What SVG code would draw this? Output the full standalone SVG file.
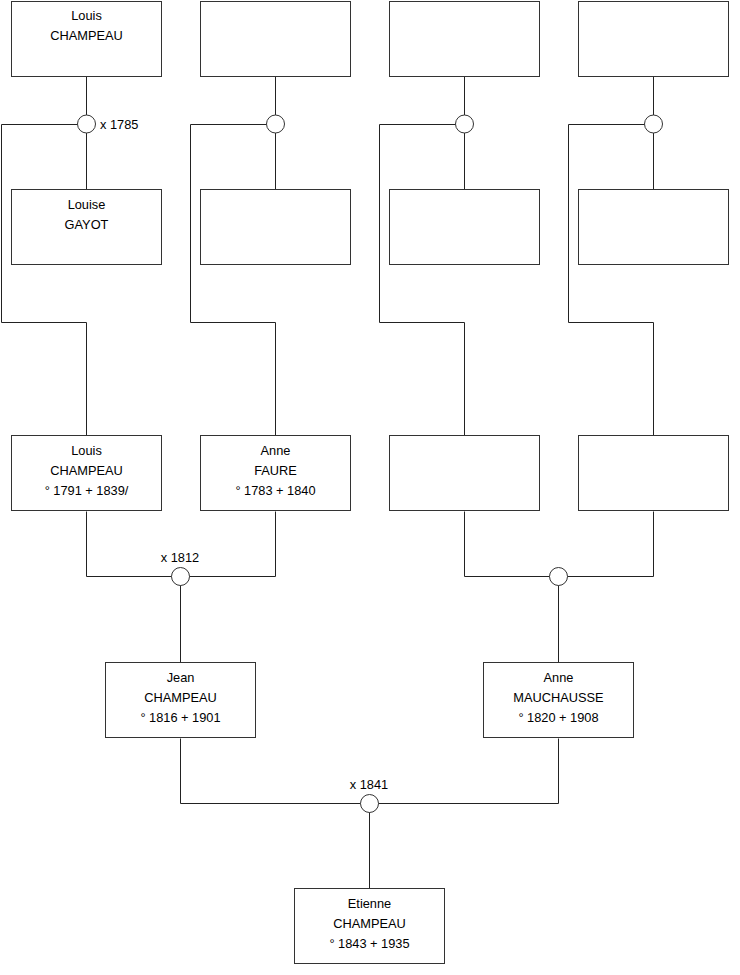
<svg xmlns="http://www.w3.org/2000/svg" width="740" height="975" viewBox="0 0 740 975">
<style>
.b{fill:#fff;stroke:#333;stroke-width:1}
.c{fill:#fff;stroke:#333;stroke-width:1}
.l{fill:none;stroke:#222;stroke-width:1}
text{font-family:"Liberation Sans",Arial,sans-serif;font-size:12.8px;fill:#000;text-anchor:middle}
</style>
<rect width="740" height="975" fill="#fff"/>
<g id="connectors">
<path class="l" d="M86.5 76.5V189.5M77.5 124.5H1.5V322.5H86.5V435.5"/>
<path class="l" d="M275.5 76.5V189.5M266.5 124.5H190.5V322.5H275.5V435.5"/>
<path class="l" d="M464.5 76.5V189.5M455.5 124.5H379.5V322.5H464.5V435.5"/>
<path class="l" d="M653.5 76.5V189.5M644.5 124.5H568.5V322.5H653.5V435.5"/>
<path class="l" d="M86.5 511.5V576.5H275.5V511.5M180.5 576.5V662.5"/>
<path class="l" d="M464.5 511.5V576.5H653.5V511.5M558.5 576.5V662.5"/>
<path class="l" d="M180.5 738.5V803.5H558.5V738.5M369.5 803.5V888.5"/>
</g>
<g id="j1785"><circle class="c" cx="86.5" cy="124" r="9"/><text x="100" y="129" style="text-anchor:start">x 1785</text></g>
<g id="j2"><circle class="c" cx="275.5" cy="124" r="9"/></g>
<g id="j3"><circle class="c" cx="464.5" cy="124" r="9"/></g>
<g id="j4"><circle class="c" cx="653.5" cy="124" r="9"/></g>
<g id="j1812"><circle class="c" cx="180.5" cy="576.5" r="9"/><text x="180" y="562">x 1812</text></g>
<g id="j5"><circle class="c" cx="558.5" cy="576.5" r="9"/></g>
<g id="j1841"><circle class="c" cx="369.5" cy="803.5" r="9"/><text x="369" y="789">x 1841</text></g>

<g id="n1"><rect class="b" x="11.5" y="1.5" width="150" height="75"/><text x="86.5" y="20">Louis</text><text x="86.5" y="40">CHAMPEAU</text></g>
<g id="n2"><rect class="b" x="200.5" y="1.5" width="150" height="75"/></g>
<g id="n3"><rect class="b" x="389.5" y="1.5" width="150" height="75"/></g>
<g id="n4"><rect class="b" x="578.5" y="1.5" width="150" height="75"/></g>

<g id="n5"><rect class="b" x="11.5" y="189.5" width="150" height="75"/><text x="86.5" y="209">Louise</text><text x="86.5" y="229">GAYOT</text></g>
<g id="n6"><rect class="b" x="200.5" y="189.5" width="150" height="75"/></g>
<g id="n7"><rect class="b" x="389.5" y="189.5" width="150" height="75"/></g>
<g id="n8"><rect class="b" x="578.5" y="189.5" width="150" height="75"/></g>

<g id="n9"><rect class="b" x="11.5" y="435.5" width="150" height="75"/><text x="86.5" y="455">Louis</text><text x="86.5" y="475">CHAMPEAU</text><text x="86.5" y="495">° 1791 + 1839/</text></g>
<g id="n10"><rect class="b" x="200.5" y="435.5" width="150" height="75"/><text x="275.5" y="455">Anne</text><text x="275.5" y="475">FAURE</text><text x="275.5" y="495">° 1783 + 1840</text></g>
<g id="n11"><rect class="b" x="389.5" y="435.5" width="150" height="75"/></g>
<g id="n12"><rect class="b" x="578.5" y="435.5" width="150" height="75"/></g>

<g id="n13"><rect class="b" x="105.5" y="662.5" width="150" height="75"/><text x="180.5" y="682">Jean</text><text x="180.5" y="702">CHAMPEAU</text><text x="180.5" y="722">° 1816 + 1901</text></g>
<g id="n14"><rect class="b" x="483.5" y="662.5" width="150" height="75"/><text x="558.5" y="682">Anne</text><text x="558.5" y="702">MAUCHAUSSE</text><text x="558.5" y="722">° 1820 + 1908</text></g>

<g id="n15"><rect class="b" x="294.5" y="888.5" width="150" height="75"/><text x="369.5" y="908">Etienne</text><text x="369.5" y="928">CHAMPEAU</text><text x="369.5" y="948">° 1843 + 1935</text></g>
</svg>
